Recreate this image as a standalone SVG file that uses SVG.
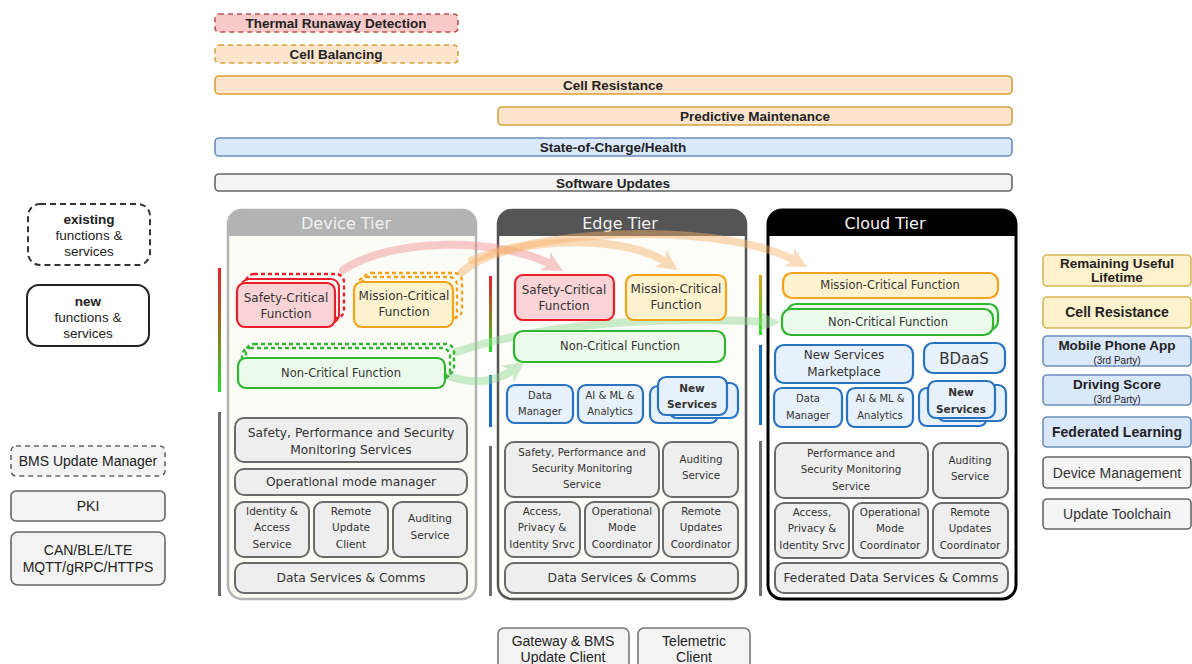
<svg xmlns="http://www.w3.org/2000/svg" width="1192" height="664" viewBox="0 0 1192 664">
  <style>
    .lbl { font-family: "Liberation Sans", Arial, sans-serif; fill: #222; text-anchor: middle; }
    .b { font-weight: bold; }
    .dv { font-family: "DejaVu Sans", Verdana, sans-serif; fill: #333; text-anchor: middle; }
    .sc { fill: #f9d3d6; stroke: #e8202a; stroke-width: 2.2; }
    .mc { fill: #fff3cf; stroke: #f5a21b; stroke-width: 2.2; }
    .nc { fill: #ecfaec; stroke: #2fb52f; stroke-width: 2.2; }
    .ns { fill: #e6f1fb; stroke: #2a72c2; stroke-width: 2.2; }
    .gs { fill: #eeeeee; stroke: #6a6a6a; stroke-width: 2; }
    .dash { fill: none; stroke-width: 2.4; stroke-dasharray: 4 3; }
    .bar-r { fill: #f7c9c8; stroke: #b85450; stroke-width: 1.6; stroke-dasharray: 5 4; }
    .bar-o { fill: #fde4cc; stroke: #d6a13a; stroke-width: 1.6; }
    .bar-b { fill: #dae8fc; stroke: #6c8ebf; stroke-width: 1.6; }
    .bar-g { fill: #f3f3f3; stroke: #666; stroke-width: 1.6; }
    .side-y { fill: #fff2cc; stroke: #d6b656; stroke-width: 1.6; }
    .side-b { fill: #dae8fc; stroke: #6c8ebf; stroke-width: 1.6; }
    .side-g { fill: #f5f5f5; stroke: #666; stroke-width: 1.6; }
    .flow { fill: none; stroke-width: 8; stroke-linecap: round; }
  </style>
  <defs>
    <linearGradient id="critRG" x1="0" y1="0" x2="0" y2="1">
      <stop offset="0" stop-color="#e8202a"/>
      <stop offset="0.45" stop-color="#9b6a22"/>
      <stop offset="1" stop-color="#22e022"/>
    </linearGradient>
    <linearGradient id="critOG" x1="0" y1="0" x2="0" y2="1">
      <stop offset="0" stop-color="#e2a020"/>
      <stop offset="1" stop-color="#22e022"/>
    </linearGradient>
    <marker id="ahR" viewBox="0 0 10 10" refX="5" refY="5" markerWidth="2.6" markerHeight="2.6" orient="auto">
      <path d="M0,0 L10,5 L0,10 L3,5 Z" fill="#f08f8f"/>
    </marker>
    <marker id="ahO" viewBox="0 0 10 10" refX="5" refY="5" markerWidth="2.6" markerHeight="2.6" orient="auto">
      <path d="M0,0 L10,5 L0,10 L3,5 Z" fill="#f7b26a"/>
    </marker>
    <marker id="ahG" viewBox="0 0 10 10" refX="5" refY="5" markerWidth="2.6" markerHeight="2.6" orient="auto">
      <path d="M0,0 L10,5 L0,10 L3,5 Z" fill="#8fd88f"/>
    </marker>
  </defs>

  <rect width="1192" height="664" fill="#ffffff"/>

  <!-- cross-tier capability bars -->
  <g id="bar-thermal"><rect class="bar-r" x="215" y="14" width="243" height="18" rx="4"/><text class="lbl b" x="336" y="28" font-size="13.5">Thermal Runaway Detection</text></g>
  <g id="bar-balancing"><rect class="bar-o" x="215" y="45" width="243" height="18" rx="4" stroke-dasharray="5 4"/><text class="lbl b" x="336" y="59" font-size="13.5">Cell Balancing</text></g>
  <g id="bar-resistance"><rect class="bar-o" x="215" y="76" width="797" height="18" rx="4"/><text class="lbl b" x="613" y="90" font-size="13.5">Cell Resistance</text></g>
  <g id="bar-predictive"><rect class="bar-o" x="498" y="107" width="514" height="18" rx="4"/><text class="lbl b" x="755" y="121" font-size="13.5">Predictive Maintenance</text></g>
  <g id="bar-soc"><rect class="bar-b" x="215" y="138" width="797" height="18" rx="4"/><text class="lbl b" x="613" y="152" font-size="13.5">State-of-Charge/Health</text></g>
  <g id="bar-software"><rect class="bar-g" x="215" y="174" width="797" height="17" rx="4"/><text class="lbl b" x="613" y="188" font-size="13.5">Software Updates</text></g>

  <!-- legend -->
  <g id="legend-existing">
    <rect x="28" y="204" width="122" height="61" rx="12" fill="#fff" stroke="#333" stroke-width="2" stroke-dasharray="6 4"/>
    <text class="lbl b" x="89" y="224" font-size="13.5">existing</text>
    <text class="lbl" x="89" y="240" font-size="13.5">functions &amp;</text>
    <text class="lbl" x="89" y="256" font-size="13.5">services</text>
  </g>
  <g id="legend-new">
    <rect x="27" y="285" width="122" height="61" rx="12" fill="#fff" stroke="#222" stroke-width="2"/>
    <text class="lbl b" x="88" y="306" font-size="13.5">new</text>
    <text class="lbl" x="88" y="322" font-size="13.5">functions &amp;</text>
    <text class="lbl" x="88" y="338" font-size="13.5">services</text>
  </g>

  <!-- left side components -->
  <g id="bms-update-manager"><rect x="11" y="446" width="154" height="30" rx="5" fill="#f3f3f3" stroke="#666" stroke-width="1.6" stroke-dasharray="5 4"/><text class="lbl" x="88" y="466" font-size="14">BMS Update Manager</text></g>
  <g id="pki"><rect x="11" y="491" width="154" height="30" rx="5" fill="#f3f3f3" stroke="#666" stroke-width="1.6"/><text class="lbl" x="88" y="511" font-size="14">PKI</text></g>
  <g id="protocols"><rect x="11" y="532" width="154" height="53" rx="7" fill="#f3f3f3" stroke="#666" stroke-width="1.6"/><text class="lbl" x="88" y="555" font-size="14">CAN/BLE/LTE</text><text class="lbl" x="88" y="572" font-size="14">MQTT/gRPC/HTTPS</text></g>

  <!-- criticality / service indicator bars -->
  <g id="indicators">
    <rect x="218" y="268" width="3" height="124" fill="url(#critRG)"/>
    <rect x="218" y="412" width="3" height="184" fill="#6e6e6e"/>
    <rect x="489" y="276" width="3" height="76" fill="url(#critRG)"/>
    <rect x="489" y="375" width="3" height="52" fill="#1a6fc0"/>
    <rect x="489" y="446" width="3" height="150" fill="#6e6e6e"/>
    <rect x="759" y="275" width="3" height="60" fill="url(#critOG)"/>
    <rect x="759" y="345" width="3" height="80" fill="#1a6fc0"/>
    <rect x="759" y="441" width="3" height="155" fill="#6e6e6e"/>
  </g>

  <!-- tier frames -->
  <g id="device-tier">
    <rect x="228" y="210" width="248" height="389" rx="14" fill="#fcfcf7" stroke="#b3b3b3" stroke-width="2.5"/>
    <path d="M228 236 V224 Q228 210 242 210 H462 Q476 210 476 224 V236 Z" fill="#b3b3b3"/>
    <text class="dv" x="346" y="229" font-size="16" style="fill:#f0f0f0">Device Tier</text>
  </g>
  <g id="edge-tier">
    <rect x="498" y="210" width="248" height="389" rx="14" fill="#fcfcf8" stroke="#555" stroke-width="2.5"/>
    <path d="M498 236 V224 Q498 210 512 210 H732 Q746 210 746 224 V236 Z" fill="#555"/>
    <text class="dv" x="620" y="229" font-size="16" style="fill:#f2f2f2">Edge Tier</text>
  </g>
  <g id="cloud-tier">
    <rect x="768" y="210" width="248" height="389" rx="14" fill="#ffffff" stroke="#000" stroke-width="3"/>
    <path d="M768 236 V224 Q768 210 782 210 H1002 Q1016 210 1016 224 V236 Z" fill="#000"/>
    <text class="dv" x="885" y="229" font-size="16" style="fill:#f5f5f5">Cloud Tier</text>
  </g>

  <!-- migration flows between tiers -->
  <g id="connectors">
    <g opacity="0.45"><path class="flow" stroke="#f08f8f" d="M343 270 C390 238, 500 236, 554 266" marker-end="url(#ahR)"/></g>
    <g opacity="0.45"><path class="flow" stroke="#f7b26a" d="M462 272 C500 238, 620 230, 669 264" marker-end="url(#ahO)"/></g>
    <g opacity="0.45"><path class="flow" stroke="#f7b26a" d="M472 260 C560 226, 730 224, 798 262" marker-end="url(#ahO)"/></g>
    <g opacity="0.45"><path class="flow" stroke="#8fd88f" d="M456 352 C560 318, 680 318, 770 322" marker-end="url(#ahG)"/></g>
    <g opacity="0.45"><path class="flow" stroke="#8fd88f" d="M448 376 C478 386, 500 380, 516 368" marker-end="url(#ahG)"/></g>
  </g>

  <!-- device tier nodes -->
  <g id="dev-safety-critical">
    <rect class="dash" stroke="#e8202a" x="246" y="274" width="98" height="44" rx="8"/>
    <rect fill="none" stroke="#e8202a" stroke-width="2" x="241" y="279" width="98" height="44" rx="8"/>
    <rect class="sc" x="237" y="283" width="98" height="44" rx="8"/>
    <text class="dv" x="286" y="302" font-size="12">Safety-Critical</text>
    <text class="dv" x="286" y="318" font-size="12">Function</text>
  </g>
  <g id="dev-mission-critical">
    <rect class="dash" stroke="#f5a21b" x="363" y="273" width="99" height="45" rx="8"/>
    <rect class="dash" stroke="#f5a21b" x="358" y="277" width="99" height="45" rx="8"/>
    <rect class="mc" x="354" y="282" width="99" height="45" rx="8"/>
    <text class="dv" x="404" y="300" font-size="12">Mission-Critical</text>
    <text class="dv" x="404" y="316" font-size="12">Function</text>
  </g>
  <g id="dev-non-critical">
    <rect class="dash" stroke="#2fb52f" x="246" y="344" width="208" height="31" rx="8"/>
    <rect class="dash" stroke="#2fb52f" x="242" y="348" width="208" height="31" rx="8"/>
    <rect class="nc" x="238" y="358" width="207" height="30" rx="8"/>
    <text class="dv" x="341" y="377" font-size="11.5">Non-Critical Function</text>
  </g>
  <g id="dev-monitoring"><rect class="gs" x="235" y="418" width="232" height="44" rx="9"/><text class="dv" x="351" y="437" font-size="12.3">Safety, Performance and Security</text><text class="dv" x="351" y="454" font-size="12.3">Monitoring Services</text></g>
  <g id="dev-opmode"><rect class="gs" x="235" y="469" width="232" height="26" rx="9"/><text class="dv" x="351" y="486" font-size="12.3">Operational mode manager</text></g>
  <g id="dev-identity"><rect class="gs" x="235" y="502" width="74" height="55" rx="9"/><text class="dv" x="272" y="515" font-size="10.5">Identity &amp;</text><text class="dv" x="272" y="531" font-size="10.5">Access</text><text class="dv" x="272" y="548" font-size="10.5">Service</text></g>
  <g id="dev-remote-update"><rect class="gs" x="314" y="502" width="74" height="55" rx="9"/><text class="dv" x="351" y="515" font-size="10.5">Remote</text><text class="dv" x="351" y="531" font-size="10.5">Update</text><text class="dv" x="351" y="548" font-size="10.5">Client</text></g>
  <g id="dev-auditing"><rect class="gs" x="393" y="502" width="74" height="55" rx="9"/><text class="dv" x="430" y="522" font-size="10.5">Auditing</text><text class="dv" x="430" y="539" font-size="10.5">Service</text></g>
  <g id="dev-data-comms"><rect class="gs" x="235" y="563" width="232" height="30" rx="9"/><text class="dv" x="351" y="582" font-size="12.3">Data Services &amp; Comms</text></g>

  <!-- edge tier nodes -->
  <g id="edge-safety-critical"><rect class="sc" x="515" y="275" width="99" height="45" rx="8"/><text class="dv" x="564" y="294" font-size="12">Safety-Critical</text><text class="dv" x="564" y="310" font-size="12">Function</text></g>
  <g id="edge-mission-critical"><rect class="mc" x="626" y="275" width="100" height="45" rx="8"/><text class="dv" x="676" y="293" font-size="12">Mission-Critical</text><text class="dv" x="676" y="309" font-size="12">Function</text></g>
  <g id="edge-non-critical"><rect class="nc" x="514" y="331" width="211" height="31" rx="9"/><text class="dv" x="620" y="350" font-size="11.5">Non-Critical Function</text></g>
  <g id="edge-data-manager"><rect class="ns" x="507" y="385" width="66" height="38" rx="8"/><text class="dv" x="540" y="399" font-size="10">Data</text><text class="dv" x="540" y="415" font-size="10">Manager</text></g>
  <g id="edge-ai-ml"><rect class="ns" x="578" y="385" width="65" height="38" rx="8"/><text class="dv" x="610" y="399" font-size="10">AI &amp; ML &amp;</text><text class="dv" x="610" y="415" font-size="10">Analytics</text></g>
  <g id="edge-new-services">
    <rect class="ns" x="650" y="386" width="68" height="37" rx="8"/>
    <rect class="ns" x="669" y="383" width="69" height="35" rx="8"/>
    <rect class="ns" x="658" y="377" width="69" height="38" rx="8"/>
    <text class="dv b" x="692" y="392" font-size="10.5">New</text><text class="dv b" x="692" y="408" font-size="10.5">Services</text>
  </g>
  <g id="edge-monitoring"><rect class="gs" x="505" y="442" width="154" height="55" rx="9"/><text class="dv" x="582" y="456" font-size="10.3">Safety, Performance and</text><text class="dv" x="582" y="472" font-size="10.3">Security Monitoring</text><text class="dv" x="582" y="488" font-size="10.3">Service</text></g>
  <g id="edge-auditing"><rect class="gs" x="663" y="442" width="75" height="55" rx="9"/><text class="dv" x="701" y="463" font-size="10.3">Auditing</text><text class="dv" x="701" y="479" font-size="10.3">Service</text></g>
  <g id="edge-access"><rect class="gs" x="505" y="502" width="75" height="55" rx="9"/><text class="dv" x="542" y="515" font-size="10.3">Access,</text><text class="dv" x="542" y="531" font-size="10.3">Privacy &amp;</text><text class="dv" x="542" y="548" font-size="10.3">Identity Srvc</text></g>
  <g id="edge-opmode"><rect class="gs" x="585" y="502" width="74" height="55" rx="9"/><text class="dv" x="622" y="515" font-size="10.3">Operational</text><text class="dv" x="622" y="531" font-size="10.3">Mode</text><text class="dv" x="622" y="548" font-size="10.3">Coordinator</text></g>
  <g id="edge-remote-updates"><rect class="gs" x="663" y="502" width="75" height="55" rx="9"/><text class="dv" x="701" y="515" font-size="10.3">Remote</text><text class="dv" x="701" y="531" font-size="10.3">Updates</text><text class="dv" x="701" y="548" font-size="10.3">Coordinator</text></g>
  <g id="edge-data-comms"><rect class="gs" x="505" y="563" width="233" height="30" rx="9"/><text class="dv" x="622" y="582" font-size="12.3">Data Services &amp; Comms</text></g>

  <!-- edge clients -->
  <g id="gateway-client"><rect x="498" y="628" width="131" height="44" rx="6" fill="#f3f3f3" stroke="#777" stroke-width="1.6"/><text class="lbl" x="563" y="646" font-size="14">Gateway &amp; BMS</text><text class="lbl" x="563" y="662" font-size="14">Update Client</text></g>
  <g id="telemetric-client"><rect x="638" y="628" width="112" height="44" rx="6" fill="#f3f3f3" stroke="#777" stroke-width="1.6"/><text class="lbl" x="694" y="646" font-size="14">Telemetric</text><text class="lbl" x="694" y="662" font-size="14">Client</text></g>

  <!-- cloud tier nodes -->
  <g id="cloud-mission-critical"><rect class="mc" x="783" y="273" width="215" height="25" rx="9"/><text class="dv" x="890" y="289" font-size="11.5">Mission-Critical Function</text></g>
  <g id="cloud-non-critical">
    <rect class="nc" x="787" y="304" width="211" height="26" rx="9"/>
    <rect class="nc" x="782" y="309" width="211" height="26" rx="9"/>
    <text class="dv" x="888" y="326" font-size="11.5">Non-Critical Function</text>
  </g>
  <g id="cloud-marketplace"><rect class="ns" x="775" y="345" width="138" height="38" rx="9"/><text class="dv" x="844" y="359" font-size="12">New Services</text><text class="dv" x="844" y="376" font-size="12">Marketplace</text></g>
  <g id="cloud-bdaas"><rect class="ns" x="924" y="343" width="81" height="30" rx="9"/><text class="dv" x="964" y="364" font-size="15">BDaaS</text></g>
  <g id="cloud-data-manager"><rect class="ns" x="774" y="388" width="68" height="39" rx="8"/><text class="dv" x="808" y="402" font-size="10">Data</text><text class="dv" x="808" y="419" font-size="10">Manager</text></g>
  <g id="cloud-ai-ml"><rect class="ns" x="847" y="388" width="66" height="39" rx="8"/><text class="dv" x="880" y="402" font-size="10">AI &amp; ML &amp;</text><text class="dv" x="880" y="419" font-size="10">Analytics</text></g>
  <g id="cloud-new-services">
    <rect class="ns" x="919" y="388" width="68" height="38" rx="8"/>
    <rect class="ns" x="937" y="385" width="69" height="36" rx="8"/>
    <rect class="ns" x="928" y="381" width="67" height="37" rx="8"/>
    <text class="dv b" x="961" y="396" font-size="10.5">New</text><text class="dv b" x="961" y="413" font-size="10.5">Services</text>
  </g>
  <g id="cloud-monitoring"><rect class="gs" x="775" y="443" width="153" height="55" rx="9"/><text class="dv" x="851" y="457" font-size="10.3">Performance and</text><text class="dv" x="851" y="473" font-size="10.3">Security Monitoring</text><text class="dv" x="851" y="490" font-size="10.3">Service</text></g>
  <g id="cloud-auditing"><rect class="gs" x="933" y="443" width="75" height="55" rx="9"/><text class="dv" x="970" y="464" font-size="10.3">Auditing</text><text class="dv" x="970" y="480" font-size="10.3">Service</text></g>
  <g id="cloud-access"><rect class="gs" x="775" y="503" width="74" height="55" rx="9"/><text class="dv" x="812" y="516" font-size="10.3">Access,</text><text class="dv" x="812" y="532" font-size="10.3">Privacy &amp;</text><text class="dv" x="812" y="549" font-size="10.3">Identity Srvc</text></g>
  <g id="cloud-opmode"><rect class="gs" x="853" y="503" width="75" height="55" rx="9"/><text class="dv" x="890" y="516" font-size="10.3">Operational</text><text class="dv" x="890" y="532" font-size="10.3">Mode</text><text class="dv" x="890" y="549" font-size="10.3">Coordinator</text></g>
  <g id="cloud-remote-updates"><rect class="gs" x="933" y="503" width="75" height="55" rx="9"/><text class="dv" x="970" y="516" font-size="10.3">Remote</text><text class="dv" x="970" y="532" font-size="10.3">Updates</text><text class="dv" x="970" y="549" font-size="10.3">Coordinator</text></g>
  <g id="cloud-data-comms"><rect class="gs" x="775" y="563" width="233" height="30" rx="9"/><text class="dv" x="891" y="582" font-size="12.3">Federated Data Services &amp; Comms</text></g>

  <!-- cloud-side applications -->
  <g id="rul"><rect class="side-y" x="1043" y="255" width="148" height="31" rx="4"/><text class="lbl b" x="1117" y="268" font-size="13.5">Remaining Useful</text><text class="lbl b" x="1117" y="282" font-size="13.5">Lifetime</text></g>
  <g id="cell-resistance"><rect class="side-y" x="1043" y="297" width="148" height="31" rx="4"/><text class="lbl b" x="1117" y="317" font-size="14">Cell Resistance</text></g>
  <g id="mobile-app"><rect class="side-b" x="1043" y="336" width="148" height="30" rx="4"/><text class="lbl b" x="1117" y="350" font-size="13.5">Mobile Phone App</text><text class="lbl" x="1117" y="364" font-size="10">(3rd Party)</text></g>
  <g id="driving-score"><rect class="side-b" x="1043" y="375" width="148" height="30" rx="4"/><text class="lbl b" x="1117" y="389" font-size="13.5">Driving Score</text><text class="lbl" x="1117" y="403" font-size="10">(3rd Party)</text></g>
  <g id="federated-learning"><rect class="side-b" x="1043" y="417" width="148" height="30" rx="4"/><text class="lbl b" x="1117" y="437" font-size="14">Federated Learning</text></g>
  <g id="device-management"><rect class="side-g" x="1043" y="457" width="148" height="31" rx="4"/><text class="lbl" x="1117" y="478" font-size="14" style="fill:#333">Device Management</text></g>
  <g id="update-toolchain"><rect class="side-g" x="1043" y="499" width="148" height="30" rx="4"/><text class="lbl" x="1117" y="519" font-size="14" style="fill:#333">Update Toolchain</text></g>
</svg>
